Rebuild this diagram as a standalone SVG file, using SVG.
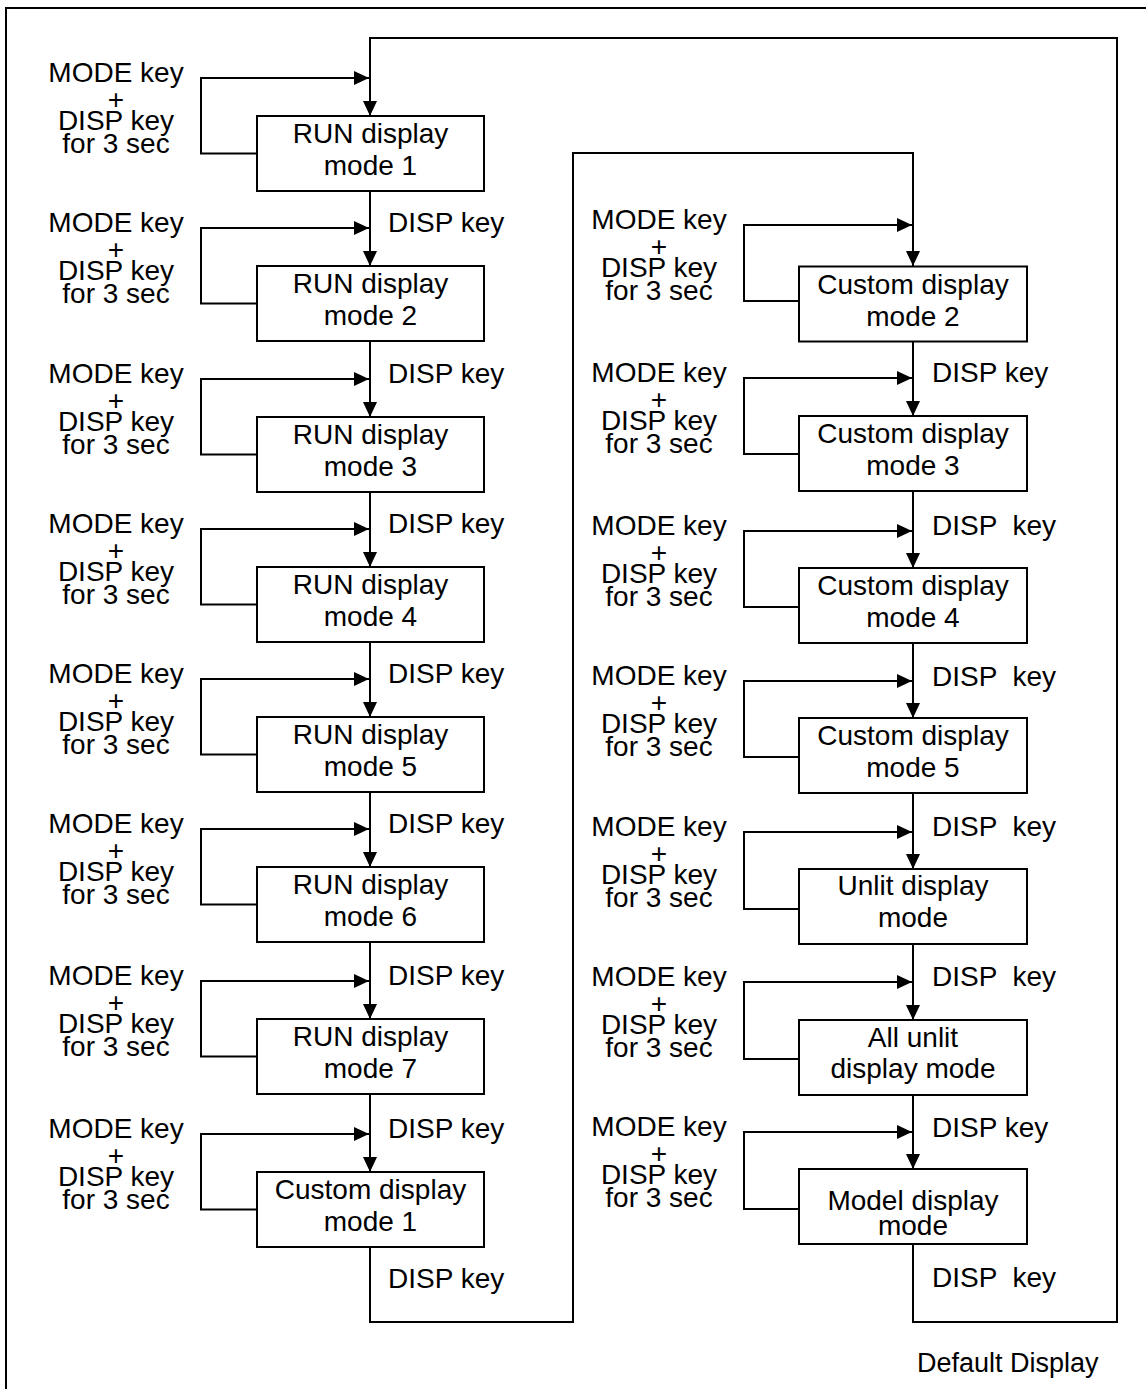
<svg xmlns="http://www.w3.org/2000/svg" width="1146" height="1389" viewBox="0 0 1146 1389">
<style>
text{font-family:"Liberation Sans",Arial,sans-serif;font-size:28px;fill:#000}
.c{text-anchor:middle}
.box{fill:#fff;stroke:#000;stroke-width:2}
.ln{fill:none;stroke:#000;stroke-width:2}
.ar{fill:none;stroke:#000;stroke-width:2;marker-end:url(#ah)}
</style>
<defs>
<marker id="ah" markerUnits="userSpaceOnUse" markerWidth="16" markerHeight="14" refX="15" refY="7" orient="auto"><path d="M0,0 L15,7 L0,14 z" fill="#000"/></marker>
</defs>
<rect x="0" y="0" width="1146" height="1389" fill="#fff"/>
<rect x="6" y="8" width="1160" height="1400" class="ln"/>
<g id="connectors">
<!-- main return loop -->
<path class="ar" d="M913,1244 V1322 H1117 V38 H370 V116"/>
<path class="ar" d="M370,1247 V1322 H573 V153 H913 V266"/>
<!-- left column vertical arrows -->
<path class="ar" d="M370,191 V266"/>
<path class="ar" d="M370,341 V417"/>
<path class="ar" d="M370,492 V567"/>
<path class="ar" d="M370,642 V717"/>
<path class="ar" d="M370,792 V867"/>
<path class="ar" d="M370,942 V1019"/>
<path class="ar" d="M370,1094 V1172"/>
<!-- left column self loops -->
<path class="ar" d="M257,153.5 H201 V78 H369"/>
<path class="ar" d="M257,303.5 H201 V228 H369"/>
<path class="ar" d="M257,454.5 H201 V379 H369"/>
<path class="ar" d="M257,604.5 H201 V529 H369"/>
<path class="ar" d="M257,754.5 H201 V679 H369"/>
<path class="ar" d="M257,904.5 H201 V829 H369"/>
<path class="ar" d="M257,1056.5 H201 V981 H369"/>
<path class="ar" d="M257,1209.5 H201 V1134 H369"/>
<!-- right column vertical arrows -->
<path class="ar" d="M913,341.5 V416"/>
<path class="ar" d="M913,491 V568"/>
<path class="ar" d="M913,643 V718"/>
<path class="ar" d="M913,793 V869"/>
<path class="ar" d="M913,944 V1020"/>
<path class="ar" d="M913,1095 V1169"/>
<!-- right column self loops -->
<path class="ar" d="M799,301 H744 V225 H912"/>
<path class="ar" d="M799,454 H744 V378 H912"/>
<path class="ar" d="M799,607 H744 V531 H912"/>
<path class="ar" d="M799,757 H744 V681 H912"/>
<path class="ar" d="M799,909 H744 V832 H912"/>
<path class="ar" d="M799,1059 H744 V982 H912"/>
<path class="ar" d="M799,1209 H744 V1132 H912"/>
</g>
<g id="key-labels-left">
<g class="c"><text x="116" y="82" class="c">MODE key</text><text x="116" y="109" class="c">+</text><text x="116" y="130" class="c">DISP key</text><text x="116" y="153" class="c">for 3 sec</text></g>
<g><text x="116" y="232" class="c">MODE key</text><text x="116" y="259" class="c">+</text><text x="116" y="280" class="c">DISP key</text><text x="116" y="303" class="c">for 3 sec</text></g>
<g><text x="116" y="383" class="c">MODE key</text><text x="116" y="410" class="c">+</text><text x="116" y="431" class="c">DISP key</text><text x="116" y="454" class="c">for 3 sec</text></g>
<g><text x="116" y="533" class="c">MODE key</text><text x="116" y="560" class="c">+</text><text x="116" y="581" class="c">DISP key</text><text x="116" y="604" class="c">for 3 sec</text></g>
<g><text x="116" y="683" class="c">MODE key</text><text x="116" y="710" class="c">+</text><text x="116" y="731" class="c">DISP key</text><text x="116" y="754" class="c">for 3 sec</text></g>
<g><text x="116" y="833" class="c">MODE key</text><text x="116" y="860" class="c">+</text><text x="116" y="881" class="c">DISP key</text><text x="116" y="904" class="c">for 3 sec</text></g>
<g><text x="116" y="985" class="c">MODE key</text><text x="116" y="1012" class="c">+</text><text x="116" y="1033" class="c">DISP key</text><text x="116" y="1056" class="c">for 3 sec</text></g>
<g><text x="116" y="1138" class="c">MODE key</text><text x="116" y="1165" class="c">+</text><text x="116" y="1186" class="c">DISP key</text><text x="116" y="1209" class="c">for 3 sec</text></g>
</g>
<g id="disp-labels-left">
<text x="388" y="232">DISP key</text>
<text x="388" y="383">DISP key</text>
<text x="388" y="533">DISP key</text>
<text x="388" y="683">DISP key</text>
<text x="388" y="833">DISP key</text>
<text x="388" y="985">DISP key</text>
<text x="388" y="1138">DISP key</text>
<text x="388" y="1288">DISP key</text>
</g>
<g id="key-labels-right">
<g><text x="659" y="229" class="c">MODE key</text><text x="659" y="256" class="c">+</text><text x="659" y="277" class="c">DISP key</text><text x="659" y="300" class="c">for 3 sec</text></g>
<g><text x="659" y="382" class="c">MODE key</text><text x="659" y="409" class="c">+</text><text x="659" y="430" class="c">DISP key</text><text x="659" y="453" class="c">for 3 sec</text></g>
<g><text x="659" y="535" class="c">MODE key</text><text x="659" y="562" class="c">+</text><text x="659" y="583" class="c">DISP key</text><text x="659" y="606" class="c">for 3 sec</text></g>
<g><text x="659" y="685" class="c">MODE key</text><text x="659" y="712" class="c">+</text><text x="659" y="733" class="c">DISP key</text><text x="659" y="756" class="c">for 3 sec</text></g>
<g><text x="659" y="836" class="c">MODE key</text><text x="659" y="863" class="c">+</text><text x="659" y="884" class="c">DISP key</text><text x="659" y="907" class="c">for 3 sec</text></g>
<g><text x="659" y="986" class="c">MODE key</text><text x="659" y="1013" class="c">+</text><text x="659" y="1034" class="c">DISP key</text><text x="659" y="1057" class="c">for 3 sec</text></g>
<g><text x="659" y="1136" class="c">MODE key</text><text x="659" y="1163" class="c">+</text><text x="659" y="1184" class="c">DISP key</text><text x="659" y="1207" class="c">for 3 sec</text></g>
</g>
<g id="disp-labels-right">
<text x="932" y="382">DISP key</text>
<text x="932" y="535" xml:space="preserve">DISP  key</text>
<text x="932" y="686" xml:space="preserve">DISP  key</text>
<text x="932" y="836" xml:space="preserve">DISP  key</text>
<text x="932" y="986" xml:space="preserve">DISP  key</text>
<text x="932" y="1137">DISP key</text>
<text x="932" y="1287" xml:space="preserve">DISP  key</text>
</g>
<g id="run1"><rect class="box" x="257" y="116" width="227" height="75"/><text x="370.5" y="143" class="c">RUN display</text><text x="370.5" y="175" class="c">mode 1</text></g>
<g id="run2"><rect class="box" x="257" y="266" width="227" height="75"/><text x="370.5" y="293" class="c">RUN display</text><text x="370.5" y="325" class="c">mode 2</text></g>
<g id="run3"><rect class="box" x="257" y="417" width="227" height="75"/><text x="370.5" y="444" class="c">RUN display</text><text x="370.5" y="476" class="c">mode 3</text></g>
<g id="run4"><rect class="box" x="257" y="567" width="227" height="75"/><text x="370.5" y="594" class="c">RUN display</text><text x="370.5" y="626" class="c">mode 4</text></g>
<g id="run5"><rect class="box" x="257" y="717" width="227" height="75"/><text x="370.5" y="744" class="c">RUN display</text><text x="370.5" y="776" class="c">mode 5</text></g>
<g id="run6"><rect class="box" x="257" y="867" width="227" height="75"/><text x="370.5" y="894" class="c">RUN display</text><text x="370.5" y="926" class="c">mode 6</text></g>
<g id="run7"><rect class="box" x="257" y="1019" width="227" height="75"/><text x="370.5" y="1046" class="c">RUN display</text><text x="370.5" y="1078" class="c">mode 7</text></g>
<g id="custom1"><rect class="box" x="257" y="1172" width="227" height="75"/><text x="370.5" y="1199" class="c">Custom display</text><text x="370.5" y="1231" class="c">mode 1</text></g>
<g id="custom2"><rect class="box" x="799" y="266.5" width="228" height="75"/><text x="913" y="294" class="c">Custom display</text><text x="913" y="326" class="c">mode 2</text></g>
<g id="custom3"><rect class="box" x="799" y="416" width="228" height="75"/><text x="913" y="443" class="c">Custom display</text><text x="913" y="475" class="c">mode 3</text></g>
<g id="custom4"><rect class="box" x="799" y="568" width="228" height="75"/><text x="913" y="595" class="c">Custom display</text><text x="913" y="627" class="c">mode 4</text></g>
<g id="custom5"><rect class="box" x="799" y="718" width="228" height="75"/><text x="913" y="745" class="c">Custom display</text><text x="913" y="777" class="c">mode 5</text></g>
<g id="unlit"><rect class="box" x="799" y="869" width="228" height="75"/><text x="913" y="895" class="c">Unlit display</text><text x="913" y="927" class="c">mode</text></g>
<g id="allunlit"><rect class="box" x="799" y="1020" width="228" height="75"/><text x="913" y="1047" class="c">All unlit</text><text x="913" y="1078" class="c">display mode</text></g>
<g id="model"><rect class="box" x="799" y="1169" width="228" height="75"/><text x="913" y="1210" class="c">Model display</text><text x="913" y="1235" class="c">mode</text></g>
<text x="917" y="1372" style="font-size:27px">Default Display</text>
</svg>
